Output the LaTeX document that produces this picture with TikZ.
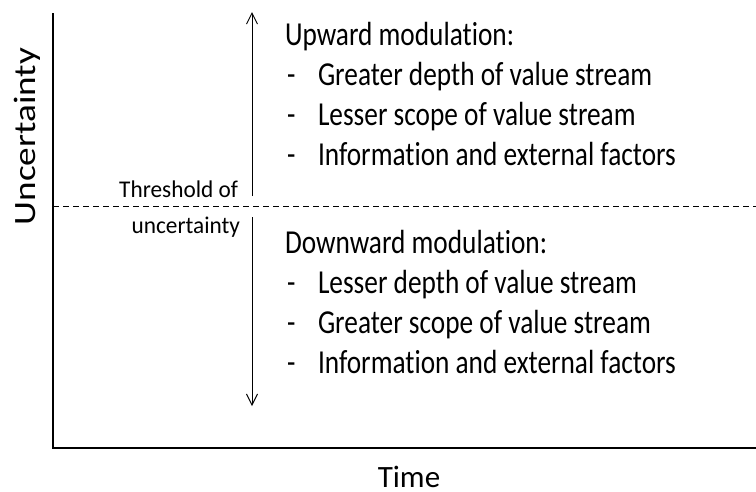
\documentclass[tikz,border=0pt]{standalone}
\usepackage{fontspec}
\setmainfont[Ligatures=NoCommon]{Carlito}
\newfontfamily\bodyfont[FakeStretch=0.815,Ligatures=NoCommon]{Carlito}
\newfontfamily\axisfont[FakeStretch=1.2,Ligatures=NoCommon]{Carlito}
\newfontfamily\threshfont[FakeStretch=0.97,Ligatures=NoCommon]{Carlito}
\usetikzlibrary{arrows.meta}
\begin{document}
\begin{tikzpicture}[x=1pt,y=-1pt,
  txt/.style={inner sep=0pt, outer sep=0pt, anchor=base west, font=\bodyfont\fontsize{33.5}{33.5}\selectfont},
  thr/.style={inner sep=0pt, outer sep=0pt, anchor=base east, font=\threshfont\fontsize{24}{24}\selectfont},
  axis/.style={line width=1.6pt, black},
  modarrow/.style={line width=1pt, -{Straight Barb[length=11pt,width=11pt]}},
  thresh/.style={line width=1pt, dash pattern=on 6pt off 4pt}]
\useasboundingbox (0,0) rectangle (756,491);
% axes
\coordinate (ytop) at (53,13);
\coordinate (orig) at (53,448);
\coordinate (xend) at (756,448);
\draw[axis] (ytop) -- (orig) -- (xend);
% threshold line
\coordinate (tl) at (53,206);
\coordinate (tr) at (756,206);
\draw[thresh] (tl) -- (tr);
% modulation arrows
\coordinate (ups) at (252,196);
\coordinate (upe) at (252,12);
\coordinate (dns) at (252,217);
\coordinate (dne) at (252,406);
\draw[modarrow] (ups) -- (upe);
\draw[modarrow] (dns) -- (dne);
% axis labels
\node[inner sep=0pt, anchor=base, rotate=90, font=\axisfont\fontsize{31}{31}\selectfont] (ylab) at (35,136.5) {Uncertainty};
\node[inner sep=0pt, anchor=base, text depth=0pt, font=\fontsize{31}{31}\selectfont] (xlab) at (409,487) {Time};
% threshold labels
\node[thr] (th1) at (238,197) {Threshold of};
\node[thr] (th2) at (240,233) {uncertainty};
% upward
\node[txt] (uph) at (285,45) {Upward modulation:};
\node[txt] (ud1) at (287,85) {-};
\node[txt] (ut1) at (318,85) {Greater depth of value stream};
\node[txt] (ud2) at (287,125) {-};
\node[txt] (ut2) at (318,125) {Lesser scope of value stream};
\node[txt] (ud3) at (287,165) {-};
\node[txt] (ut3) at (318,165) {Information and external factors};
% downward
\node[txt] (dnh) at (285,253) {Downward modulation:};
\node[txt] (dd1) at (287,293) {-};
\node[txt] (dt1) at (318,293) {Lesser depth of value stream};
\node[txt] (dd2) at (287,333) {-};
\node[txt] (dt2) at (318,333) {Greater scope of value stream};
\node[txt] (dd3) at (287,373) {-};
\node[txt] (dt3) at (318,373) {Information and external factors};
\end{tikzpicture}
\end{document}
